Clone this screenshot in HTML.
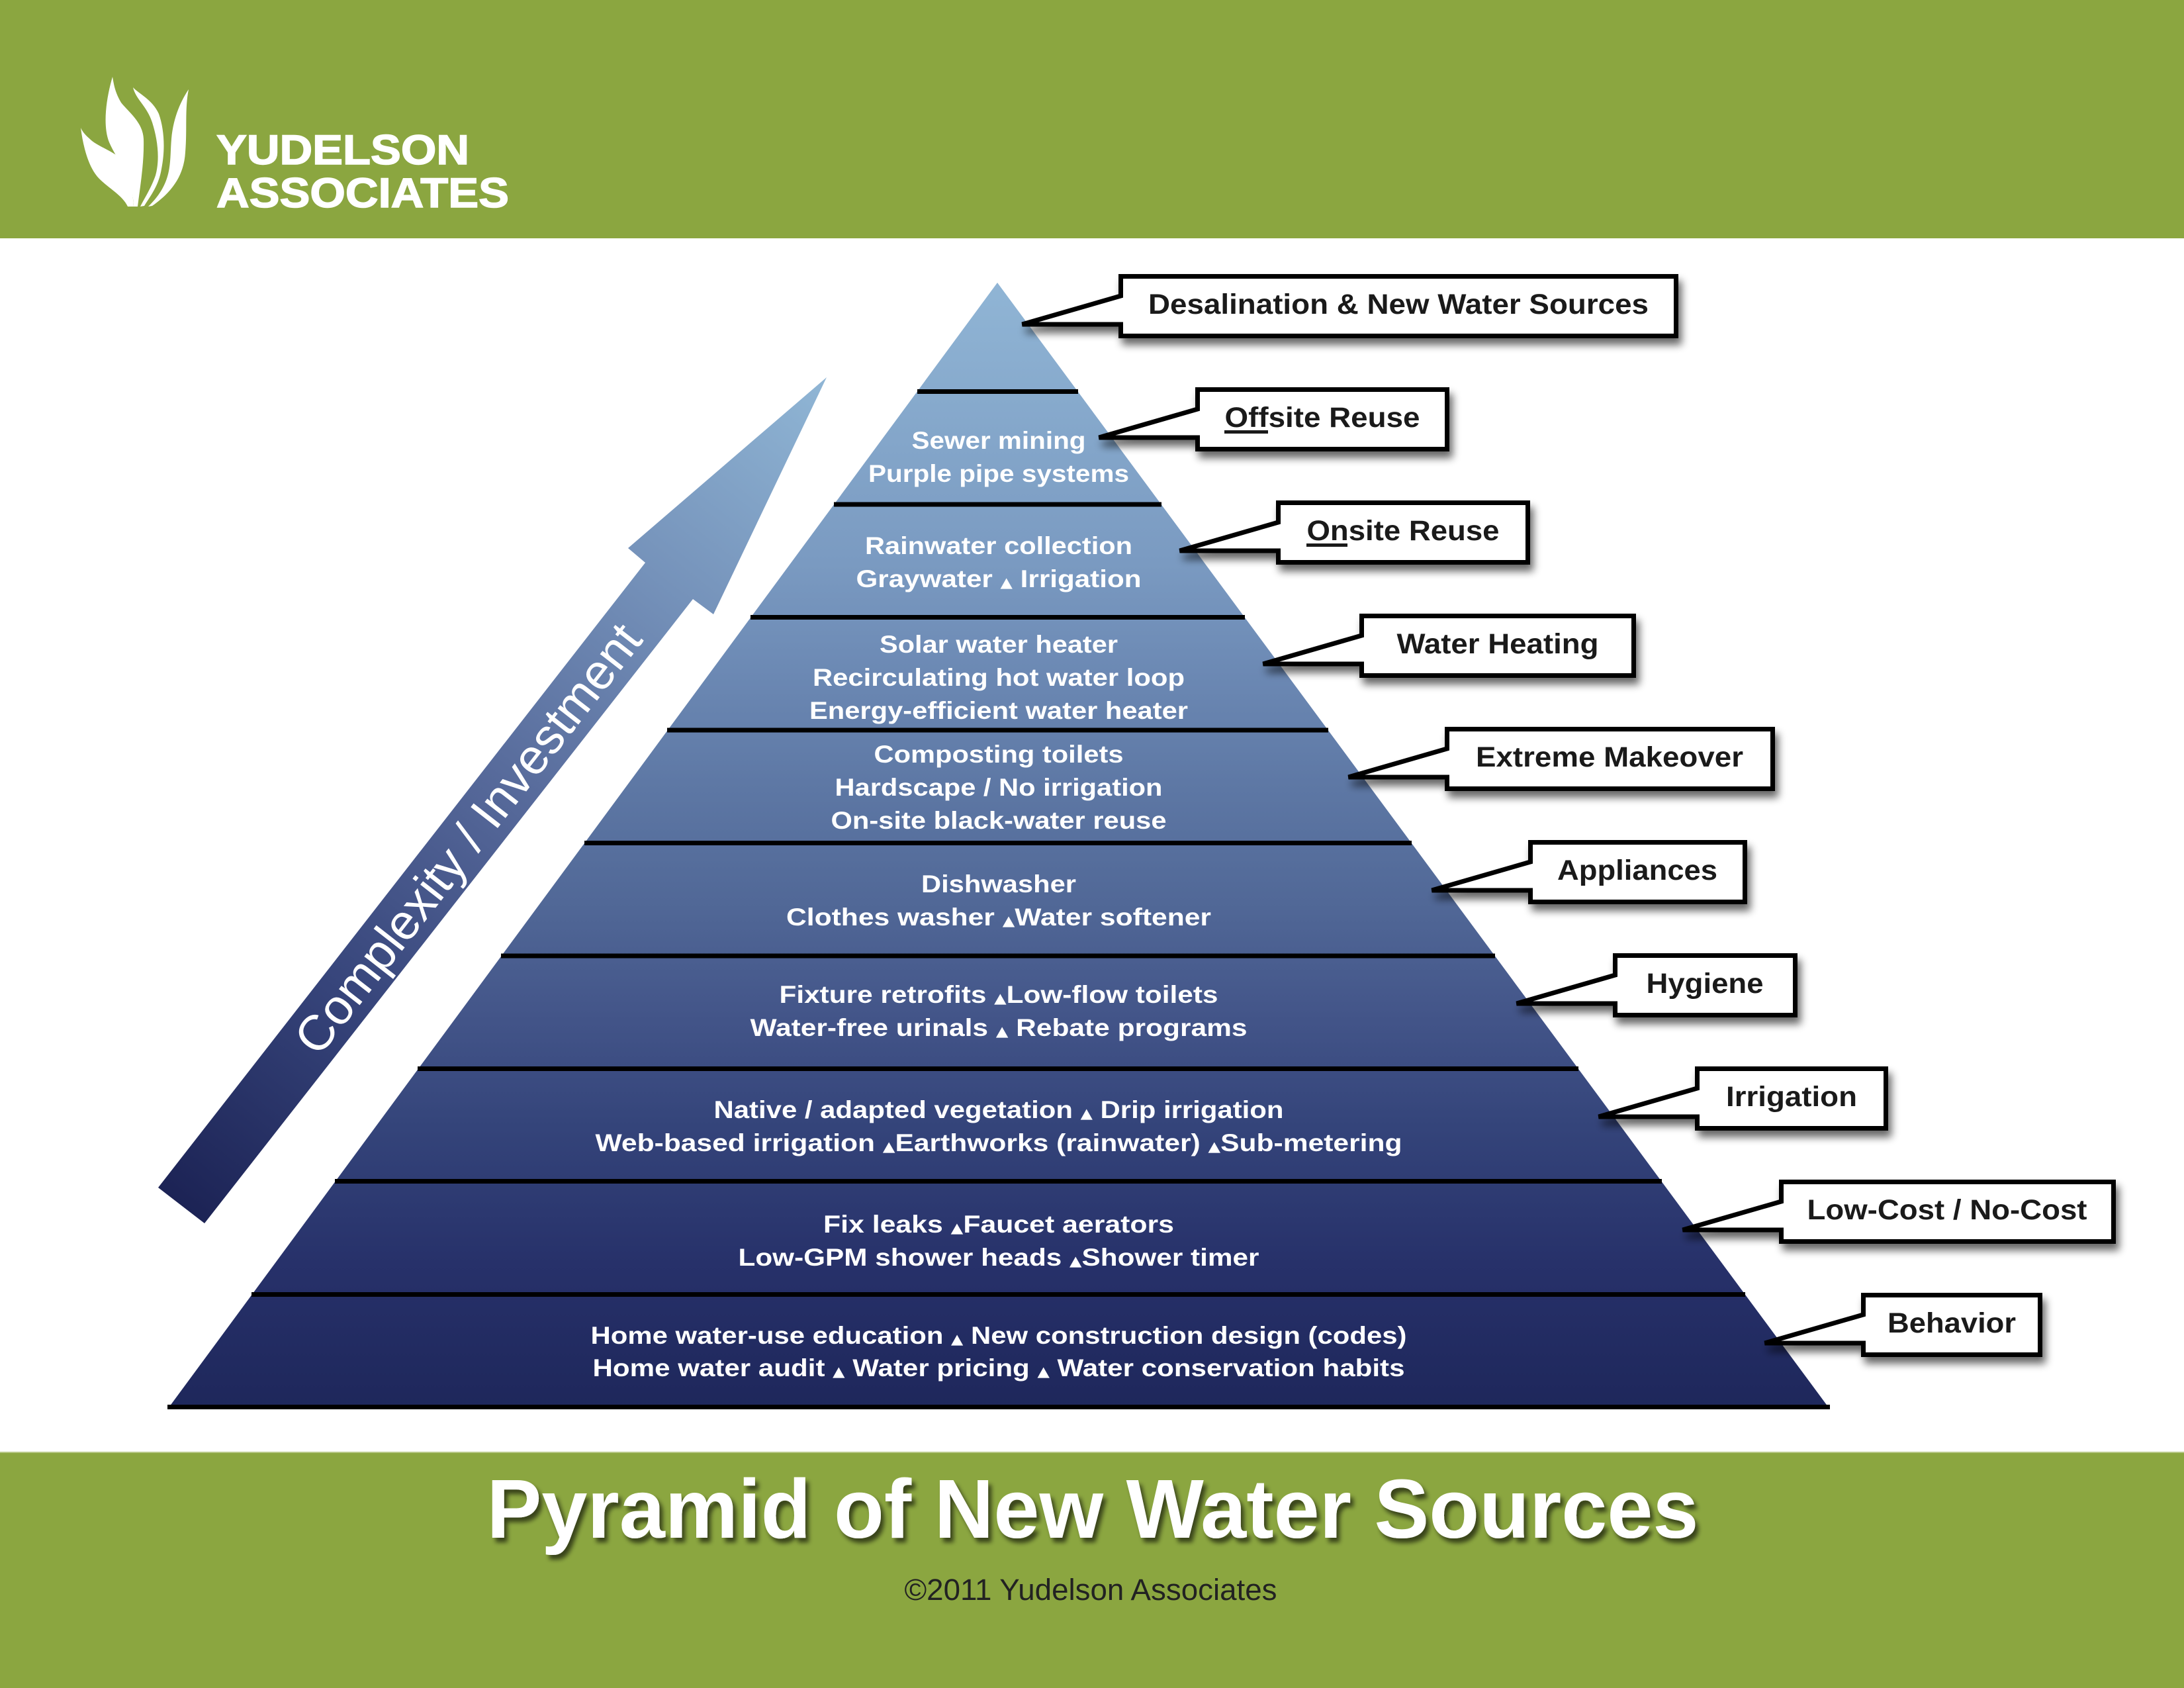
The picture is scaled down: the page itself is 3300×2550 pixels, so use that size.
<!DOCTYPE html>
<html>
<head>
<meta charset="utf-8">
<style>
  html,body{margin:0;padding:0;background:#fff;}
  svg{display:block;}
  .pt{font-family:"Liberation Sans",Arial,sans-serif;font-weight:bold;font-size:37px;fill:#fff;white-space:pre;}
  .tri{font-family:"DejaVu Sans",sans-serif;font-size:21px;}
  .bl{font-family:"Liberation Sans",Arial,sans-serif;font-weight:bold;font-size:43px;fill:#1a1a1a;}
</style>
</head>
<body>
<svg width="3300" height="2550" viewBox="0 0 3300 2550" xmlns="http://www.w3.org/2000/svg">
  <defs>
    <linearGradient id="pg" gradientUnits="userSpaceOnUse" x1="0" y1="427" x2="0" y2="2129">
      <stop offset="0" stop-color="#90b5d5"/>
      <stop offset="0.25" stop-color="#7a9ac1"/>
      <stop offset="0.35" stop-color="#6b88b3"/>
      <stop offset="0.45" stop-color="#5d77a4"/>
      <stop offset="0.55" stop-color="#516897"/>
      <stop offset="0.65" stop-color="#435589"/>
      <stop offset="0.75" stop-color="#34447a"/>
      <stop offset="0.87" stop-color="#27316a"/>
      <stop offset="1" stop-color="#1e275b"/>
    </linearGradient>
    <linearGradient id="ag" gradientUnits="userSpaceOnUse" x1="274" y1="1821" x2="1249" y2="570">
      <stop offset="0" stop-color="#1c2355"/>
      <stop offset="0.25" stop-color="#36447a"/>
      <stop offset="0.5" stop-color="#56699a"/>
      <stop offset="0.75" stop-color="#7592ba"/>
      <stop offset="1" stop-color="#90b6d5"/>
    </linearGradient>
    <filter id="bs" x="-20%" y="-30%" width="140%" height="170%">
      <feGaussianBlur in="SourceAlpha" stdDeviation="6"/>
      <feOffset dx="5" dy="10" result="o"/>
      <feComponentTransfer><feFuncA type="linear" slope="0.6"/></feComponentTransfer>
      <feMerge><feMergeNode/><feMergeNode in="SourceGraphic"/></feMerge>
    </filter>
    <filter id="ts" x="-5%" y="-30%" width="110%" height="160%">
      <feGaussianBlur in="SourceAlpha" stdDeviation="3.5"/>
      <feOffset dx="5" dy="7"/>
      <feComponentTransfer><feFuncA type="linear" slope="0.6"/></feComponentTransfer>
      <feMerge><feMergeNode/><feMergeNode in="SourceGraphic"/></feMerge>
    </filter>
  </defs>

  <!-- header band -->
  <rect x="0" y="0" width="3300" height="360" fill="#8ba640"/>
  <!-- logo leaves -->
  <g fill="#fff">
    <path d="M122,193 C126,225 135,255 150,270 C165,285 185,295 193,312 L202,312 C200,285 196,255 183,240 C170,228 150,222 138,212 C130,205 125,200 122,193 Z"/>
    <path d="M170,116 C160,150 155,190 165,215 C178,245 200,265 202,312 L208,312 C212,280 218,245 217,210 C216,185 195,170 183,155 C174,140 172,128 170,116 Z"/>
    <path d="M201,132 C205,150 222,160 230,185 C238,210 242,240 235,265 C228,285 218,300 212,312 L218,311 C228,295 240,280 244,255 C250,225 248,195 240,172 C230,150 210,142 201,132 Z"/>
    <path d="M285,135 C275,150 262,175 259,210 C256,245 262,275 224,312 L230,311 C260,290 278,265 280,230 C283,195 279,165 285,135 Z"/>
  </g>
  <g font-family="'Liberation Sans',Arial,sans-serif" font-weight="bold" font-size="63" fill="#fff" stroke="#fff" stroke-width="1.5">
    <text x="327" y="248" textLength="382" lengthAdjust="spacingAndGlyphs">YUDELSON</text>
    <text x="327" y="313" textLength="442" lengthAdjust="spacingAndGlyphs">ASSOCIATES</text>
  </g>

  <!-- footer band -->
  <rect x="0" y="2193" width="3300" height="357" fill="#8ba640"/>
  <rect x="0" y="2193" width="3300" height="2" fill="#b9c98a"/>
  <text x="1651" y="2323" text-anchor="middle" font-family="'Liberation Sans',Arial,sans-serif" font-weight="bold" font-size="126" fill="#fff" textLength="1831" lengthAdjust="spacingAndGlyphs" filter="url(#ts)">Pyramid of New Water Sources</text>
  <text x="1648" y="2417" text-anchor="middle" font-family="'Liberation Sans',Arial,sans-serif" font-size="45" fill="#222" textLength="563" lengthAdjust="spacingAndGlyphs">©2011 Yudelson Associates</text>

  <!-- arrow -->
  <polygon points="239,1794 975,850 949,828 1249,570 1078,928 1047,905 309,1848" fill="url(#ag)"/>
  <text transform="translate(706,1266) rotate(-52.06)" x="0" y="27" text-anchor="middle" font-family="'Liberation Sans',Arial,sans-serif" font-size="75" fill="#fff" textLength="800" lengthAdjust="spacingAndGlyphs">Complexity / Investment</text>

  <!-- pyramid -->
  <polygon points="1507,427 253,2129 2765,2129" fill="url(#pg)"/>
  <g fill="#000">
    <rect x="1386" y="588" width="243" height="7"/>
    <rect x="1260" y="758.5" width="495" height="7"/>
    <rect x="1134" y="929" width="747" height="7"/>
    <rect x="1008" y="1099.5" width="999" height="7"/>
    <rect x="883" y="1270" width="1250" height="7"/>
    <rect x="757" y="1440.5" width="1502" height="7"/>
    <rect x="631" y="1611" width="1754" height="7"/>
    <rect x="506" y="1781" width="2005" height="7"/>
    <rect x="380" y="1952" width="2257" height="7"/>
    <rect x="253" y="2122" width="2512" height="7"/>
  </g>

  <!-- pyramid text -->
  <g class="pt" text-anchor="middle">
    <text x="1509" y="678" textLength="263" lengthAdjust="spacingAndGlyphs">Sewer mining</text>
    <text x="1509" y="728" textLength="394" lengthAdjust="spacingAndGlyphs">Purple pipe systems</text>

    <text x="1509" y="837" textLength="404" lengthAdjust="spacingAndGlyphs">Rainwater collection</text>
    <text x="1509" y="887" textLength="431" lengthAdjust="spacingAndGlyphs">Graywater <tspan class="tri">▲</tspan> Irrigation</text>

    <text x="1509" y="986" textLength="360" lengthAdjust="spacingAndGlyphs">Solar water heater</text>
    <text x="1509" y="1036" textLength="562" lengthAdjust="spacingAndGlyphs">Recirculating hot water loop</text>
    <text x="1509" y="1086" textLength="572" lengthAdjust="spacingAndGlyphs">Energy-efficient water heater</text>

    <text x="1509" y="1152" textLength="377" lengthAdjust="spacingAndGlyphs">Composting toilets</text>
    <text x="1509" y="1202" textLength="495" lengthAdjust="spacingAndGlyphs">Hardscape / No irrigation</text>
    <text x="1509" y="1252" textLength="507" lengthAdjust="spacingAndGlyphs">On-site black-water reuse</text>

    <text x="1509" y="1348" textLength="234" lengthAdjust="spacingAndGlyphs">Dishwasher</text>
    <text x="1509" y="1398" textLength="642" lengthAdjust="spacingAndGlyphs">Clothes washer <tspan class="tri">▲</tspan>Water softener</text>

    <text x="1509" y="1515" textLength="663" lengthAdjust="spacingAndGlyphs">Fixture retrofits <tspan class="tri">▲</tspan>Low-flow toilets</text>
    <text x="1509" y="1565" textLength="751" lengthAdjust="spacingAndGlyphs">Water-free urinals <tspan class="tri">▲</tspan>  Rebate programs</text>

    <text x="1509" y="1689" textLength="861" lengthAdjust="spacingAndGlyphs">Native / adapted vegetation <tspan class="tri">▲</tspan> Drip irrigation</text>
    <text x="1509" y="1739" textLength="1219" lengthAdjust="spacingAndGlyphs">Web-based irrigation <tspan class="tri">▲</tspan>Earthworks (rainwater) <tspan class="tri">▲</tspan>Sub-metering</text>

    <text x="1509" y="1862" textLength="530" lengthAdjust="spacingAndGlyphs">Fix leaks <tspan class="tri">▲</tspan>Faucet aerators</text>
    <text x="1509" y="1912" textLength="787" lengthAdjust="spacingAndGlyphs">Low-GPM shower heads <tspan class="tri">▲</tspan>Shower timer</text>

    <text x="1509" y="2030" textLength="1233" lengthAdjust="spacingAndGlyphs">Home water-use education <tspan class="tri">▲</tspan> New construction design (codes)</text>
    <text x="1509" y="2079" textLength="1227" lengthAdjust="spacingAndGlyphs">Home water audit <tspan class="tri">▲</tspan> Water pricing <tspan class="tri">▲</tspan> Water conservation habits</text>
  </g>

  <!-- callout boxes -->
  <g filter="url(#bs)" fill="#fff" stroke="#000" stroke-width="7">
    <path d="M1693.5,417.5 H2532.5 V507.5 H1693.5 V490 H1544.5 L1693.5,447 Z"/>
    <path d="M1809.5,588.5 H2186.5 V678.5 H1809.5 V661 H1660.5 L1809.5,618 Z"/>
    <path d="M1931.5,759.5 H2308.5 V849.5 H1931.5 V832 H1782.5 L1931.5,789 Z"/>
    <path d="M2057.5,930.5 H2468.5 V1020.5 H2057.5 V1003 H1908.5 L2057.5,960 Z"/>
    <path d="M2186.5,1101.5 H2678.5 V1191.5 H2186.5 V1174 H2037.5 L2186.5,1131 Z"/>
    <path d="M2312.5,1272.5 H2636.5 V1362.5 H2312.5 V1345 H2163.5 L2312.5,1302 Z"/>
    <path d="M2440.5,1443.5 H2712.5 V1533.5 H2440.5 V1516 H2291.5 L2440.5,1473 Z"/>
    <path d="M2564.5,1614.5 H2849.5 V1704.5 H2564.5 V1687 H2415.5 L2564.5,1644 Z"/>
    <path d="M2691.5,1785.5 H3193.5 V1875.5 H2691.5 V1858 H2542.5 L2691.5,1815 Z"/>
    <path d="M2815.5,1956.5 H3082.5 V2046.5 H2815.5 V2029 H2666.5 L2815.5,1986 Z"/>
  </g>
  <g class="bl" text-anchor="middle">
    <text x="2113" y="474" textLength="756" lengthAdjust="spacingAndGlyphs">Desalination &amp; New Water Sources</text>
    <text x="1998" y="645" textLength="295" lengthAdjust="spacingAndGlyphs">Offsite Reuse</text>
    <text x="2120" y="816" textLength="291" lengthAdjust="spacingAndGlyphs">Onsite Reuse</text>
    <text x="2263" y="987" textLength="305" lengthAdjust="spacingAndGlyphs">Water Heating</text>
    <text x="2432" y="1158" textLength="404" lengthAdjust="spacingAndGlyphs">Extreme Makeover</text>
    <text x="2474" y="1329" textLength="242" lengthAdjust="spacingAndGlyphs">Appliances</text>
    <text x="2576" y="1500" textLength="177" lengthAdjust="spacingAndGlyphs">Hygiene</text>
    <text x="2707" y="1671" textLength="198" lengthAdjust="spacingAndGlyphs">Irrigation</text>
    <text x="2942" y="1842" textLength="423" lengthAdjust="spacingAndGlyphs">Low-Cost / No-Cost</text>
    <text x="2949" y="2013" textLength="194" lengthAdjust="spacingAndGlyphs">Behavior</text>
  </g>
  <rect x="1850" y="650" width="66" height="5" fill="#1a1a1a"/>
  <rect x="1974" y="821" width="62" height="5" fill="#1a1a1a"/>
</svg>
</body>
</html>
